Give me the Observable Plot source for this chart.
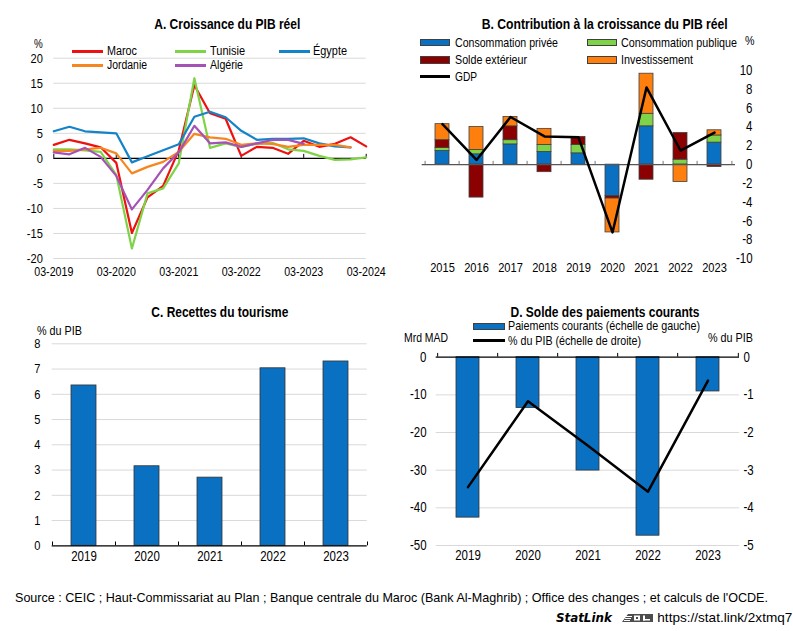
<!DOCTYPE html>
<html><head><meta charset="utf-8">
<script src="https://cdn.jsdelivr.net/npm/d3@7"></script>
<script src="https://cdn.jsdelivr.net/npm/@observablehq/plot@0.6"></script>
<style>
body{margin:0;background:#fff;}
#root{position:relative;width:793px;height:631px;overflow:hidden;font-family:"Liberation Sans",Arial,sans-serif;color:#000;background:#fff;}
.t{position:absolute;white-space:nowrap;line-height:1;display:inline-block;}
.svgbox{position:absolute;}
</style></head>
<body><div id="root"></div>
<script>
const FONT = '"Liberation Sans",Arial,sans-serif';
const NARROW = 0.82; // Arial Narrow ≈ 82% of Arial width

// ---------- Panel A data ----------
const quarters = ["03-2019","06-2019","09-2019","12-2019","03-2020","06-2020","09-2020","12-2020","03-2021","06-2021","09-2021","12-2021","03-2022","06-2022","09-2022","12-2022","03-2023","06-2023","09-2023","12-2023","03-2024"];
const countryNames = ["Maroc","Tunisie","Égypte","Jordanie","Algérie"];
const countryColors = ["#ee1111","#7ed348","#1483c8","#f6861f","#a552b6"];
const maroc   = [2.7, 3.7, 3.0, 2.2, -0.9, -14.9, -7.8, -5.5, 1.6, 14.6, 9.0, 7.9, 0.5, 2.3, 2.1, 0.9, 3.5, 2.3, 2.9, 4.2, 2.4];
const tunisie = [1.8, 1.8, 1.6, 1.3, -3.3, -18.0, -7.0, -6.0, -1.0, 16.0, 2.1, 3.0, 2.3, 2.9, 3.1, 1.8, 1.5, 0.5, -0.3, -0.2, 0.2];
const egypte  = [5.4, 6.3, 5.4, 5.2, 5.0, -0.8, 0.4, 1.6, 2.8, 8.3, 9.3, 8.2, 5.5, 3.7, 3.9, 3.9, 4.0, 3.0, 2.4, 2.2, null];
const jordanie= [1.5, 1.5, 1.8, 2.1, 1.0, -3.0, -1.7, -0.7, 1.3, 4.9, 4.2, 3.9, 2.7, 3.0, 2.9, 2.3, 2.7, 2.7, 2.7, 2.2, null];
const algerie = [1.2, 0.8, 2.1, 0.3, -3.5, -10.2, -6.3, -2.0, 1.2, 6.5, 3.0, 3.2, 2.3, 3.0, 3.7, 3.7, 2.9, null, null, null, null];
const yTicksA = [-20,-15,-10,-5,0,5,10,15,20];
const xTickIdxA = [0,4,8,12,16,20];

// ---------- Panel B data ----------
const yearsB = ["2015","2016","2017","2018","2019","2020","2021","2022","2023"];
const compNames = ["Consommation privée","Consommation publique","Solde extérieur","Investissement"];
const compColors = ["#0a71c2","#7ed348","#8b0000","#ff7f0e"];
const consPrivee   = [1.45, 1.1, 2.15, 1.35, 1.2, -3.35, 4.07, 0, 2.34];
const consPublique = [0.32, 0.45, 0.45, 0.75, 0.9, 0, 1.33, 0.53, 0.76];
const soldeExt     = [0.83, -3.5, 1.47, -0.8, 0.85, -0.25, -1.6, 2.83, -0.25];
const investis     = [1.7, 2.45, 1.0, 1.7, 0, -3.6, 4.26, -1.84, 0.55];
const gdpB         = [4.3, 0.5, 5.06, 3.0, 2.9, -7.2, 8.2, 1.5, 3.4];
const yTicksB = [-10,-8,-6,-4,-2,0,2,4,6,8,10];

// ---------- Panel C data ----------
const yearsC = ["2019","2020","2021","2022","2023"];
const tourisme = [6.35, 3.15, 2.7, 7.03, 7.3];
const yTicksC = [0,1,2,3,4,5,6,7,8];

// ---------- Panel D data ----------
const yearsD = ["2019","2020","2021","2022","2023"];
const paiements = [-42.6, -13.5, -30.1, -47.4, -9.1];
const pctPIB = [-3.45, -1.17, -2.35, -3.57, -0.62];
const yTicksDLeft = [0,-10,-20,-30,-40,-50];
const yTicksDRight = [0,-1,-2,-3,-4,-5];

const root = document.getElementById("root");
function put(el, left, top){ el.style.position="absolute"; el.style.left=left+"px"; el.style.top=top+"px"; root.appendChild(el); return el; }
// condensed text: x is start / middle / end position depending on anchor; width = target width (optional)
function txt(s, x, cy, size, o = {}){
  const d = document.createElement("span");
  d.className = "t"; d.textContent = s;
  d.style.fontSize = size + "px";
  if (o.bold) d.style.fontWeight = "bold";
  if (o.italic) d.style.fontStyle = "italic";
  if (o.family) d.style.fontFamily = o.family;
  d.style.top = (cy - size/2) + "px";
  d.style.left = "0px";
  root.appendChild(d);
  const w = d.getBoundingClientRect().width;
  const r = o.width ? o.width / w : (o.r ?? NARROW);
  const anchor = o.anchor || "start";
  const left = anchor === "start" ? x : anchor === "middle" ? x - w/2 : x - w;
  d.style.left = left + "px";
  d.style.transformOrigin = anchor === "start" ? "left center" : anchor === "middle" ? "center center" : "right center";
  d.style.transform = `scaleX(${r})`;
  return d;
}
function condenseSvg(svg, r = NARROW){
  svg.querySelectorAll("text").forEach(t => {
    const L = t.getComputedTextLength();
    if (L > 0) { t.setAttribute("textLength", L * r); t.setAttribute("lengthAdjust", "spacingAndGlyphs"); }
  });
}
function lineSw(x, y, w, color, th){ const d=document.createElement("div"); d.style.cssText=`position:absolute;left:${x}px;top:${y-th/2}px;width:${w}px;height:${th}px;background:${color};`; root.appendChild(d); }
function rectSw(x, y, w, h, color){ const d=document.createElement("div"); d.style.cssText=`position:absolute;left:${x}px;top:${y-h/2}px;width:${w}px;height:${h}px;background:${color};border:1px solid #404040;box-sizing:border-box;`; root.appendChild(d); }

const baseStyle = {fontFamily: FONT, fontSize: "14px", background: "transparent", color:"#000", overflow:"visible"};

// ================= Panel A =================
{
  const series = [maroc, tunisie, egypte, jordanie, algerie];
  const data = series.flatMap((vals, k) => vals.map((v, i) => ({name: countryNames[k], i, v}))).filter(d => d.v != null);
  const W = 390, H = 250, top = 40;
  const p = Plot.plot({
    width: W, height: H,
    marginLeft: 53.3, marginRight: 24.3, marginTop: 17.7, marginBottom: 32,
    style: baseStyle,
    x: {type: "linear", domain: [0, 20]},
    y: {domain: [-20, 20]},
    color: {domain: countryNames, range: countryColors},
    marks: [
      Plot.gridY(yTicksA, {stroke: "#d9d9d9", strokeOpacity: 1}),
      Plot.ruleY([0], {stroke: "#000", strokeWidth: 1.2}),
      Plot.ruleX(xTickIdxA, {x: d => d, y1: 0, y2: 0.8, stroke: "#000"}),
      Plot.line(data, {x: "i", y: "v", z: "name", stroke: "name", strokeWidth: 2.2}),
      Plot.axisY({ticks: yTicksA, tickSize: 0, tickPadding: 11, fontSize: 13.5, tickFormat: d => String(d), label: null}),
      Plot.axisX({ticks: xTickIdxA, tickSize: 0, tickPadding: 8.5, fontSize: 13, tickFormat: i => quarters[i], label: null})
    ]
  });
  p.classList.add("svgbox"); put(p, 0, top); condenseSvg(p);
  txt("A. Croissance du PIB réel", 227, 23, 15, {bold: true, anchor: "middle", width: 146});
  txt("%", 34, 44, 12);
  const legA = [[0,72,51.7,107,30],[1,175,51.7,210,35],[2,279,51.7,313,34],[3,72,65,107,40],[4,175,65,210,33]];
  for (const [k,x,y,tx,w] of legA){ lineSw(x, y, 31, countryColors[k], 3); txt(countryNames[k], tx, y, 12.5, {width: w}); }
}

// ================= Panel B =================
{
  const comps = [consPrivee, consPublique, soldeExt, investis];
  const data = comps.flatMap((vals, k) => vals.map((v, i) => ({comp: compNames[k], year: yearsB[i], v}))).filter(d => d.v !== 0);
  const gdp = yearsB.map((y, i) => ({year: y, v: gdpB[i]}));
  const W = 393, H = 240, left = 400, top = 40;
  const ml = 21.7, mr = 58;
  const step = (W - ml - mr) / yearsB.length;
  const p = Plot.plot({
    width: W, height: H,
    marginLeft: ml, marginRight: mr, marginTop: 30, marginBottom: 21.7,
    style: baseStyle,
    x: {type: "band", domain: yearsB, paddingInner: 0.59, paddingOuter: 0.295},
    y: {domain: [-10, 10]},
    color: {domain: compNames, range: compColors},
    marks: [
      Plot.barY(data, {x: "year", y: "v", fill: "comp", stroke: "#404040", strokeWidth: 0.8}),
      Plot.ruleY([0], {stroke: "#555", strokeWidth: 1.2}),
      Plot.ruleX(yearsB, {x: d => d, y1: 0, y2: 0.35, dx: -step/2, stroke: "#777"}),
      Plot.ruleX([yearsB[yearsB.length-1]], {x: d => d, y1: 0, y2: 0.35, dx: step/2, stroke: "#777"}),
      Plot.line(gdp, {x: "year", y: "v", stroke: "#000", strokeWidth: 2.5}),
      Plot.axisY({anchor: "right", ticks: yTicksB, tickSize: 0, tickPadding: 3, dx: 14, textAnchor: "end", fontSize: 14, tickFormat: d => String(d), label: null}),
      Plot.axisX({tickSize: 0, tickPadding: 4, fontSize: 13.5, label: null})
    ]
  });
  p.classList.add("svgbox"); put(p, left, top); condenseSvg(p);
  txt("B. Contribution à la croissance du PIB réel", 605, 23, 15, {bold: true, anchor: "middle", width: 246});
  txt("%", 745, 40, 13);
  rectSw(420, 42.7, 30, 7.5, compColors[0]); txt(compNames[0], 455, 42.7, 13.5, {width: 103});
  rectSw(587, 42.7, 30, 7.5, compColors[1]); txt(compNames[1], 621, 42.7, 13.5, {width: 116});
  rectSw(420, 60, 30, 7.5, compColors[2]); txt(compNames[2], 455, 60, 13.5, {width: 72});
  rectSw(587, 60, 30, 7.5, compColors[3]); txt(compNames[3], 621, 60, 13.5, {width: 72});
  lineSw(420, 76.7, 30, "#000", 3); txt("GDP", 455, 76.7, 13.5, {width: 22});
}

// ================= Panel C =================
{
  const data = yearsC.map((y, i) => ({year: y, v: tourisme[i]}));
  const W = 390, H = 260, top = 320;
  const ml = 51.7, mr = 23.3;
  const step = (W - ml - mr) / yearsC.length;
  const p = Plot.plot({
    width: W, height: H,
    marginLeft: ml, marginRight: mr, marginTop: 23.3, marginBottom: 34.7,
    style: baseStyle,
    x: {type: "band", domain: yearsC, paddingInner: 0.6, paddingOuter: 0.3},
    y: {domain: [0, 8]},
    marks: [
      Plot.gridY(yTicksC.filter(d => d > 0), {stroke: "#d9d9d9", strokeOpacity: 1}),
      Plot.barY(data, {x: "year", y: "v", fill: "#0a71c2", stroke: "#333", strokeWidth: 0.8}),
      Plot.ruleY([0], {stroke: "#000", strokeWidth: 1.2}),
      Plot.ruleX(yearsC, {x: d => d, y1: 0, y2: 0.15, dx: -step/2, stroke: "#000"}),
      Plot.ruleX([yearsC[yearsC.length-1]], {x: d => d, y1: 0, y2: 0.15, dx: step/2, stroke: "#000"}),
      Plot.axisY({ticks: yTicksC, tickSize: 0, tickPadding: 11.7, fontSize: 13.5, tickFormat: d => String(d), label: null}),
      Plot.axisX({tickSize: 0, tickPadding: 5, fontSize: 14, label: null})
    ]
  });
  p.classList.add("svgbox"); put(p, 0, top); condenseSvg(p);
  txt("C. Recettes du tourisme", 220, 311, 15, {bold: true, anchor: "middle", width: 137});
  txt("% du PIB", 37, 331, 12, {width: 45});
}

// ================= Panel D =================
{
  const ratio = yTicksDLeft[yTicksDLeft.length-1] / yTicksDRight[yTicksDRight.length-1];
  const bars = yearsD.map((y, i) => ({year: y, v: paiements[i]}));
  const line = yearsD.map((y, i) => ({year: y, v: pctPIB[i]}));
  const W = 393, H = 260, left = 400, top = 320;
  const ml = 35.7, mr = 54;
  const step = (W - ml - mr) / yearsD.length;
  const p = Plot.plot({
    width: W, height: H,
    marginLeft: ml, marginRight: mr, marginTop: 36.7, marginBottom: 35,
    style: baseStyle,
    x: {type: "band", domain: yearsD, paddingInner: 0.615, paddingOuter: 0.3075},
    y: {domain: [-50, 0]},
    marks: [
      Plot.gridY(yTicksDLeft.filter(d => d < 0), {stroke: "#d9d9d9", strokeOpacity: 1}),
      Plot.barY(bars, {x: "year", y: "v", fill: "#0a71c2", stroke: "#333", strokeWidth: 0.8}),
      Plot.ruleY([0], {stroke: "#000", strokeWidth: 1.2}),
      Plot.ruleX(yearsD, {x: d => d, y1: 0, y2: 1, dx: -step/2, stroke: "#000"}),
      Plot.ruleX([yearsD[yearsD.length-1]], {x: d => d, y1: 0, y2: 1, dx: step/2, stroke: "#000"}),
      Plot.line(line, {x: "year", y: d => d.v * ratio, stroke: "#000", strokeWidth: 2.5}),
      Plot.axisY({anchor: "left", ticks: yTicksDLeft, tickSize: 0, tickPadding: 9.7, fontSize: 14, tickFormat: d => String(d), label: null}),
      Plot.axisY({anchor: "right", ticks: yTicksDRight.map(d => d * ratio), tickSize: 0, tickPadding: 4, fontSize: 14, tickFormat: d => String(d / ratio), label: null}),
      Plot.axisX({anchor: "bottom", tickSize: 0, tickPadding: 5, fontSize: 14, label: null})
    ]
  });
  p.classList.add("svgbox"); put(p, left, top); condenseSvg(p);
  txt("D. Solde des paiements courants", 605, 311, 15, {bold: true, anchor: "middle", width: 189});
  txt("Mrd MAD", 404, 337, 13, {width: 44});
  txt("% du PIB", 708, 337, 13, {width: 45});
  rectSw(473, 326.5, 32, 7.5, "#0a71c2"); txt("Paiements courants (échelle de gauche)", 508, 326, 13.5, {width: 192});
  lineSw(473, 340.7, 32, "#000", 3); txt("% du PIB (échelle de droite)", 508, 341, 13.5, {width: 133});
}

// ================= Footer =================
txt("Source : CEIC ; Haut-Commissariat au Plan ; Banque centrale du Maroc (Bank Al-Maghrib) ; Office des changes ; et calculs de l'OCDE.", 15, 598, 13.5, {width: 753});
txt("https://stat.link/2xtmq7", 792, 618, 13.5, {anchor: "end", width: 135});
txt("StatLink", 612, 618, 12.5, {anchor: "end", bold: true, italic: true, family: "'DejaVu Sans',Verdana,sans-serif", r: 0.95});
{
  const s = document.createElementNS("http://www.w3.org/2000/svg", "svg");
  s.setAttribute("width", 31); s.setAttribute("height", 10); s.setAttribute("viewBox", "0 0 31 10");
  s.innerHTML = '<path d="M0 9 L6 1 L31 1 L31 9 Z" fill="#4d4d4d"/><rect x="4" y="3" width="6" height="1" fill="#fff"/><rect x="3" y="5" width="6" height="1" fill="#fff"/><rect x="2" y="7" width="6" height="1" fill="#fff"/><rect x="12" y="2.5" width="6" height="5" fill="#fff"/><rect x="14" y="4" width="2" height="2" fill="#4d4d4d"/><rect x="21" y="2.5" width="2" height="5" fill="#fff"/><rect x="21" y="6" width="7" height="1.5" fill="#fff"/>';
  s.style.position = "absolute"; s.style.left = "622px"; s.style.top = "613px";
  root.appendChild(s);
}
</script>
</body></html>
